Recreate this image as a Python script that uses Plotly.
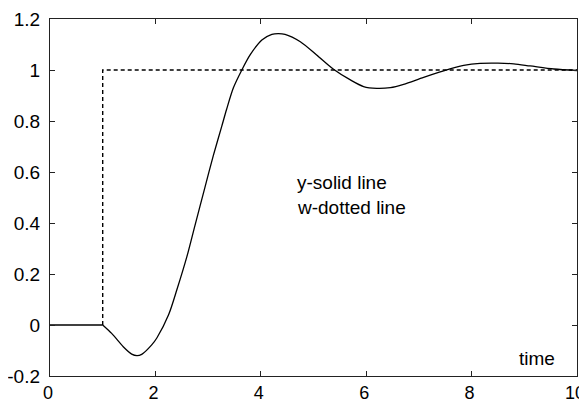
import plotly.graph_objects as go

# Solid line: system output y
t_y = [0, 1.0, 1.17, 1.39, 1.55, 1.65, 1.74, 1.93, 2.03, 2.25, 2.41, 2.60, 2.75,
       2.94, 3.10, 3.26, 3.35, 3.48, 3.64, 3.80, 4.02, 4.21, 4.33, 4.46, 4.75,
       5.06, 5.38, 5.70, 5.95, 6.2, 6.46, 6.71, 7.09, 7.59, 7.85, 8.16, 8.5,
       8.80, 9.11, 9.56, 10.0]
y_vals = [0, 0, -0.033, -0.085, -0.114, -0.12, -0.115, -0.078, -0.05, 0.04,
          0.14, 0.27, 0.39, 0.54, 0.665, 0.78, 0.845, 0.93, 1.0, 1.06,
          1.118, 1.14, 1.143, 1.14, 1.111, 1.059, 1.003, 0.961, 0.935, 0.928,
          0.931, 0.944, 0.971, 1.004, 1.018, 1.026, 1.027, 1.024, 1.016, 1.004,
          0.998]

# Dotted line: reference step w
t_w = [1.0, 1.0, 10.0]
w_vals = [0, 1, 1]

x_ticks = [0, 2, 4, 6, 8, 10]
x_ticktext = ["0", "2", "4", "6", "8", "10"]
y_ticks = [-0.2, 0, 0.2, 0.4, 0.6, 0.8, 1.0, 1.2]
y_ticktext = ["-0.2", "0", "0.2", "0.4", "0.6", "0.8", "1", "1.2"]

FONT = "Liberation Sans, Arial, sans-serif"

fig = go.Figure()
fig.add_trace(go.Scatter(x=t_w, y=w_vals, mode="lines",
                         line=dict(color="black", width=1.4, dash="4px,3px"),
                         showlegend=False, hoverinfo="skip"))
# flat part before the step, then the smooth response
fig.add_trace(go.Scatter(x=t_y[:2], y=y_vals[:2], mode="lines",
                         line=dict(color="black", width=1.3),
                         showlegend=False, hoverinfo="skip"))
fig.add_trace(go.Scatter(x=t_y[1:], y=y_vals[1:], mode="lines",
                         line=dict(color="black", width=1.3, shape="spline", smoothing=0.8),
                         showlegend=False, hoverinfo="skip"))

axis_common = dict(showline=True, linecolor="#222", linewidth=1.3, mirror="ticks",
                   ticks="inside", ticklen=5, tickcolor="#222", tickwidth=1.2,
                   showgrid=False, zeroline=False, automargin=False,
                   ticklabeloverflow="allow")

fig.update_xaxes(range=[0, 10], tickvals=x_ticks, ticktext=x_ticktext,
                 ticklabelshift=-2,
                 tickfont=dict(family=FONT, size=18, color="black"), **axis_common)
fig.update_yaxes(range=[-0.2, 1.2], tickvals=y_ticks, ticktext=y_ticktext,
                 ticklabelstandoff=5,
                 tickfont=dict(family=FONT, size=19, color="black"), **axis_common)

TXT = dict(family=FONT, size=19, color="black")
fig.add_annotation(x=4.65, y=0.557, xref="x", yref="y", text="y-solid line",
                   showarrow=False, xanchor="left", yanchor="middle", font=TXT)
fig.add_annotation(x=4.65, y=0.459, xref="x", yref="y", text="w-dotted line",
                   showarrow=False, xanchor="left", yanchor="middle", font=TXT)
fig.add_annotation(x=8.86, y=-0.131, xref="x", yref="y", text="time",
                   showarrow=False, xanchor="left", yanchor="middle", font=TXT)

# the page body adds an 8px offset; size the figure so the axes land where the
# reference has them (plot area ~ x 50..577, y 19..376 on the 587x403 page)
fig.update_layout(width=590, height=395,
                  margin=dict(l=42, r=21, t=11, b=27, autoexpand=False),
                  paper_bgcolor="white", plot_bgcolor="white")

fig.write_html("out.html")
